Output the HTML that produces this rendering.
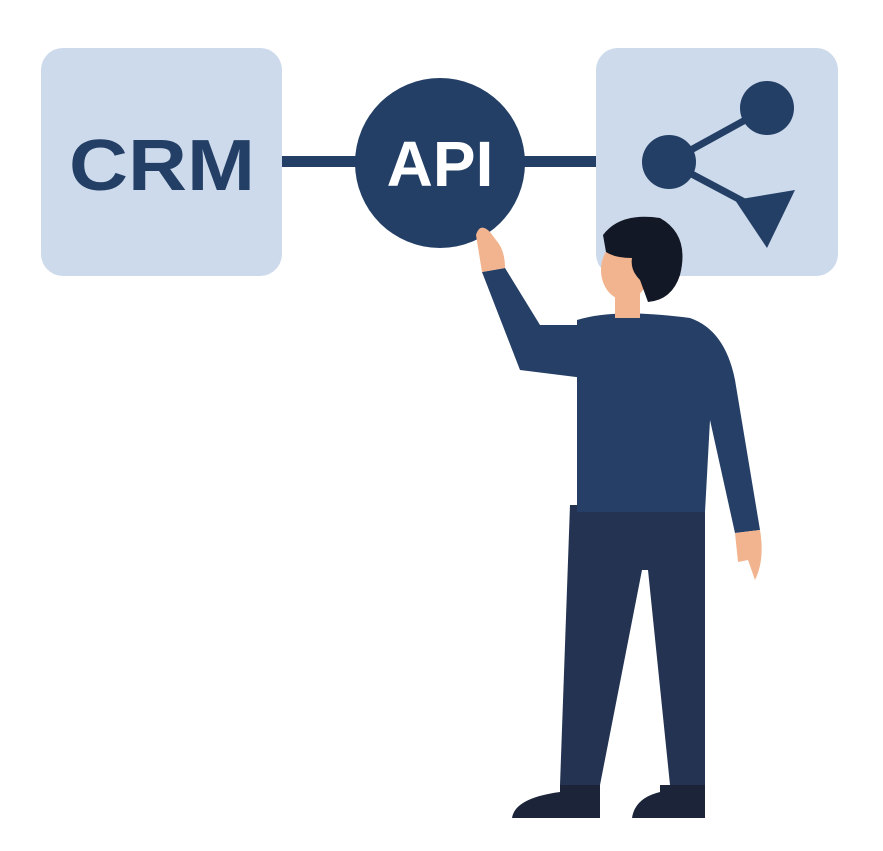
<!DOCTYPE html>
<html><head><meta charset="utf-8"><style>html,body{margin:0;padding:0;background:#fff}svg{display:block}</style></head>
<body>
<svg width="883" height="851" viewBox="0 0 883 851" xmlns="http://www.w3.org/2000/svg">
<rect x="41" y="48" width="241" height="228" rx="22" fill="#cddaeb"/>
<rect x="596" y="48" width="242" height="228" rx="22" fill="#cddaeb"/>
<rect x="282" y="156" width="314" height="11" fill="#233f66"/>
<circle cx="440" cy="163" r="85" fill="#233f66"/>
<text x="440" y="186" font-family="Liberation Sans, sans-serif" font-weight="bold" font-size="64" fill="#fff" text-anchor="middle">API</text>
<text x="162" y="190" font-family="Liberation Sans, sans-serif" font-weight="bold" font-size="72" fill="#243f66" text-anchor="middle" textLength="186" lengthAdjust="spacingAndGlyphs">CRM</text>
<g stroke="#233f66" stroke-width="7" fill="#233f66">
<line x1="669" y1="162" x2="767" y2="108"/>
<line x1="669" y1="162" x2="750" y2="205"/>
</g>
<circle cx="767" cy="108" r="27" fill="#233f66"/>
<circle cx="669" cy="162" r="27" fill="#233f66"/>
<polygon points="735,200 795,190 767,248" fill="#233f66"/>
<!-- person -->
<path d="M570 505 L705 505 L705 785 L670 785 L648 570 L642 570 L600 785 L560 785 Z" fill="#243352"/>
<path d="M560 785 L600 785 L600 818 L512 818 Q515 798 560 792 Z" fill="#1b2438"/>
<path d="M660 785 L705 785 L705 818 L632 818 Q635 798 660 792 Z" fill="#1b2438"/>
<path d="M577 320 Q615 308 690 318 Q725 330 735 380 L760 530 L735 533 L710 420 L705 512 L577 512 Z" fill="#253f66"/>
<path d="M600 325 L540 325 L505 268 L482 272 L520 370 L600 380 Z" fill="#253f66"/>
<path d="M482 272 L476 235 Q480 222 490 232 L496 240 Q505 250 505 268 Z" fill="#f2b48e"/>
<path d="M735 533 L760 530 Q765 560 755 580 L748 560 L738 562 Z" fill="#f2b48e"/>
<path d="M615 280 L640 280 L640 318 L615 318 Z" fill="#f2b48e"/>
<ellipse cx="625" cy="270" rx="24" ry="30" fill="#f2b48e"/>
<path d="M603 235 Q620 212 660 218 Q690 235 680 275 Q672 300 648 302 L640 280 Q630 270 632 258 Q615 258 606 252 Z" fill="#121826"/>
</svg>
</body></html>
